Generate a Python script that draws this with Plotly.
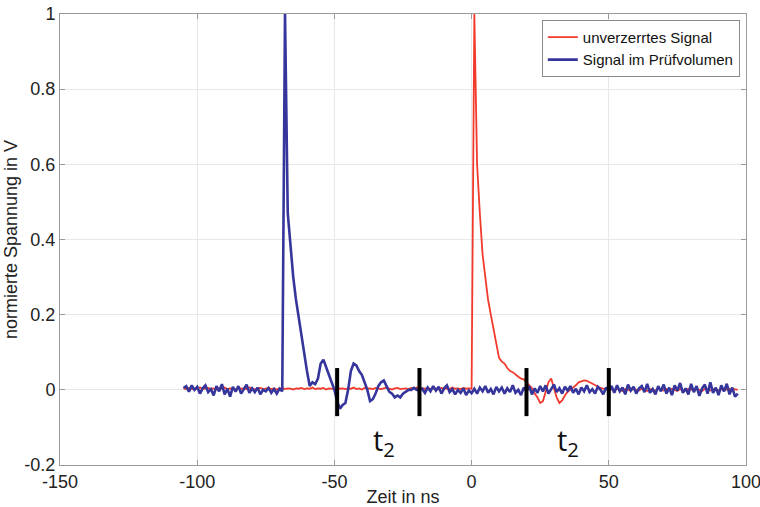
import plotly.graph_objects as go

# ---- data ----
t_start = -105   # ns
t_step = 1       # ns

signal_undistorted = [
    # -105 .. 0
    0.004, 0.002, 0.005, 0.003, 0.001, 0.004, 0.006, 0.002, 0.003, 0.005,
    0.002, 0.004, 0.001, 0.005, 0.003, 0.006, 0.002, 0.004, 0.003, 0.001,
    0.005, 0.003, 0.004, 0.002, 0.006, 0.003, 0.001, 0.004, 0.005, 0.002,
    0.003, 0.005, 0.002, 0.004, 0.001, 0.003, 0.005, 0.002, 0.004, 0.003,
    0.001, 0.004, 0.003, 0.005, 0.002, 0.004, 0.003, 0.006, 0.002, 0.004,
    0.003, 0.005, 0.001, 0.004, 0.003, 0.002, 0.005, 0.003, 0.004, 0.002,
    0.004, 0.003, 0.006, 0.002, 0.004, 0.001, 0.005, 0.003, 0.004, 0.002,
    0.005, 0.003, 0.002, 0.004, 0.006, 0.003, 0.001, 0.004, 0.005, 0.002,
    0.003, 0.004, 0.002, 0.005, 0.003, 0.006, 0.002, 0.004, 0.003, 0.005,
    0.002, 0.004, 0.003, 0.001, 0.005, 0.003, 0.004, 0.002, 0.006, 0.003,
    0.004, 0.002, 0.005, 0.003, 0.004, 0.003,
    # 1 .. 50
    1.0, 0.60, 0.47, 0.36, 0.30, 0.24, 0.20, 0.16, 0.115, 0.085,
    0.075, 0.07, 0.058, 0.05, 0.047, 0.04, 0.035, 0.03, 0.028, 0.02,
    0.012, 0.004, -0.01, -0.02, -0.035, -0.03, -0.005, 0.02, 0.03, 0.008,
    -0.02, -0.035, -0.028, -0.015, -0.005, 0.0, 0.005, 0.012, 0.02, 0.022,
    0.025, 0.024, 0.02, 0.017, 0.012, 0.008, 0.005, 0.003, 0.001, 0.0,
    # 51 .. 97
    0.002, -0.002, 0.003, 0.0, -0.003, 0.002, 0.001, -0.002, 0.003, 0.0,
    -0.002, 0.003, 0.001, -0.003, 0.002, 0.0, -0.002, 0.004, 0.001, -0.002,
    0.002, -0.001, 0.003, 0.0, -0.003, 0.002, 0.001, -0.002, 0.003, 0.0,
    -0.002, 0.002, 0.0, -0.003, 0.003, 0.001, -0.002, 0.002, 0.0, -0.001,
    0.002, -0.002, 0.001, 0.003, -0.001, 0.002, 0.0,
]

signal_test_volume = [
    # -105 .. -69
    0.005, 0.010, -0.005, 0.012, 0.000, 0.008, -0.010, 0.004, 0.012, -0.006,
    0.002, -0.015, 0.010, -0.004, 0.015, -0.012, 0.003, -0.018, 0.008, -0.005,
    0.010, -0.010, 0.002, 0.014, -0.008, 0.004, -0.006, 0.006, -0.012, 0.000,
    -0.004, 0.005, -0.008, 0.002, -0.010, 0.003, -0.004,
    # -68 .. -59
    1.0, 0.47, 0.38, 0.30, 0.24, 0.19, 0.14, 0.10, 0.05, 0.01,
    # -58 .. -19
    0.02, 0.015, 0.03, 0.07, 0.08, 0.06, 0.04, 0.02, 0.0, -0.03,
    -0.05, -0.04, -0.035, 0.0, 0.05, 0.07, 0.065, 0.05, 0.04, 0.02,
    0.0, -0.03, -0.025, -0.01, 0.01, 0.02, 0.025, 0.01, -0.005, -0.01,
    -0.02, -0.015, -0.02, -0.01, -0.005, 0.0, 0.0, 0.005, 0.0, 0.0,
    # -18 .. 97
    0.003, -0.008, 0.006, -0.004, 0.01, -0.002, 0.008, -0.01, 0.004, 0.012,
    -0.006, 0.002, -0.012, 0.0, -0.008, 0.004, -0.014, -0.002, -0.009, 0.003,
    -0.01, 0.006, -0.004, 0.01, -0.008, 0.002, -0.012, 0.008, -0.004, 0.006,
    -0.01, 0.004, -0.006, 0.012, -0.008, 0.0, -0.014, 0.006, -0.004, 0.01,
    -0.012, 0.004, -0.008, 0.01, -0.004, 0.012, -0.01, 0.002, 0.014, -0.006,
    0.004, -0.01, 0.008, -0.002, 0.01, -0.008, 0.003, -0.012, 0.006, -0.004,
    0.012, -0.006, 0.002, -0.01, 0.008, 0.0, -0.012, 0.006, -0.004, 0.01,
    -0.008, 0.012, -0.004, 0.006, -0.012, 0.014, -0.002, 0.008, -0.01, 0.004,
    0.01, -0.006, 0.016, -0.008, 0.002, -0.012, 0.01, -0.004, 0.014, -0.01,
    0.006, -0.014, 0.012, -0.002, 0.018, -0.008, 0.004, -0.012, 0.016, -0.006,
    0.01, -0.016, 0.004, 0.014, -0.01, 0.02, -0.008, 0.006, -0.014, 0.012,
    -0.004, 0.016, -0.012, 0.006, -0.018, -0.01,
]

marker_times = [-49, -19, 20, 50]          # ns, black t2 markers
marker_top = 0.058
marker_bottom = -0.07
t2_label_times = [-32, 35]
t2_label_level = -0.137

x_tickvals = [-150, -100, -50, 0, 50, 100]
x_ticktext = ["-150", "-100", "-50", "0", "50", "100"]
y_tickvals = [-0.2, 0, 0.2, 0.4, 0.6, 0.8, 1]
y_ticktext = ["-0.2", "0", "0.2", "0.4", "0.6", "0.8", "1"]

n = len(signal_undistorted)
assert n == len(signal_test_volume)
times = [t_start + i * t_step for i in range(n)]

FONT = "Liberation Sans, Arial, sans-serif"

fig = go.Figure()
fig.add_trace(go.Scatter(x=times, y=signal_undistorted, mode="lines",
                         name="unverzerrtes Signal",
                         line=dict(color="#f23a2c", width=1.8)))
fig.add_trace(go.Scatter(x=times, y=signal_test_volume, mode="lines",
                         name="Signal im Prüfvolumen",
                         line=dict(color="#35359c", width=2.6)))

for mt in marker_times:
    fig.add_trace(go.Scatter(x=[mt, mt], y=[marker_top, marker_bottom], mode="lines",
                             line=dict(color="black", width=4),
                             showlegend=False, hoverinfo="skip"))

for lt in t2_label_times:
    fig.add_annotation(x=lt, y=t2_label_level, text="t<sub>2</sub>", showarrow=False,
                       font=dict(family="Open Sans, sans-serif", size=29, color="#111"))

axis_common = dict(showline=True, linecolor="#9a9a9a", linewidth=1, mirror="ticks",
                   ticks="inside", ticklen=5, tickcolor="#9a9a9a",
                   showgrid=True, gridcolor="#e8e8e8", zeroline=False,
                   automargin=False, ticklabeloverflow="allow",
                   tickfont=dict(family=FONT, size=18, color="#222"))

fig.update_layout(
    width=760, height=507,
    margin=dict(l=60, r=14, t=14, b=42),
    paper_bgcolor="white", plot_bgcolor="white",
    font=dict(family=FONT, size=18, color="#222"),
    xaxis=dict(range=[-150, 100], tickvals=x_tickvals, ticktext=x_ticktext,
               title=dict(text="Zeit in ns", standoff=0,
                          font=dict(family=FONT, size=18, color="#222")),
               **axis_common),
    yaxis=dict(range=[-0.2, 1], tickvals=y_tickvals, ticktext=y_ticktext,
               title=dict(text="normierte Spannung in V", standoff=2,
                          font=dict(family=FONT, size=18, color="#222")),
               **axis_common),
    legend=dict(x=0.991, y=0.987, xanchor="right", yanchor="top",
                bgcolor="white", bordercolor="#8a8a8a", borderwidth=1,
                font=dict(family=FONT, size=15, color="#111"),
                itemwidth=30, tracegroupgap=0),
    showlegend=True,
)

fig.write_html("out.html", config={"displayModeBar": False},
               post_script="document.body.style.margin='0';document.body.style.overflow='hidden';")
